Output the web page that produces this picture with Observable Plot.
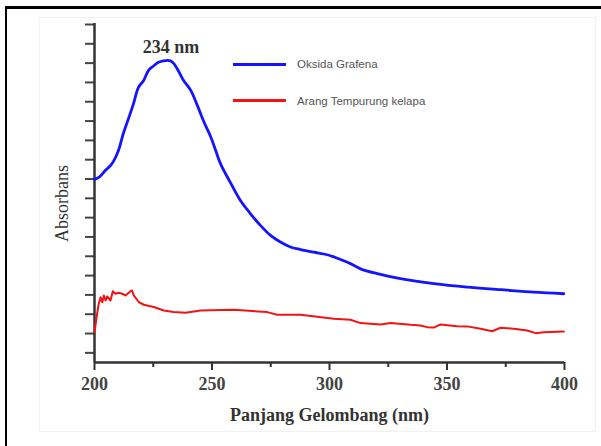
<!DOCTYPE html>
<html><head><meta charset="utf-8">
<script src="https://cdn.jsdelivr.net/npm/d3@7"></script>
<script src="https://cdn.jsdelivr.net/npm/@observablehq/plot@0.6"></script>
<style>
body{margin:0;background:#fff;}
#wrap{position:relative;width:601px;height:446px;overflow:hidden;background:#fff;}
#inner{position:absolute;left:39px;top:17px;width:557px;height:415px;border:1px solid #f1f1f1;box-sizing:border-box;}
#frameTop{position:absolute;left:5px;top:6px;width:596px;height:2.5px;background:#000;}
#frameLeft{position:absolute;left:4.5px;top:6px;width:2.5px;height:440px;background:#000;}
#chart{position:absolute;left:0;top:0;}
.lg{position:absolute;font-family:"Liberation Sans",Arial,sans-serif;font-size:11.5px;color:#555;white-space:nowrap;line-height:1;}
.lgline{position:absolute;height:3px;width:53px;}
</style></head><body>
<div id="wrap">
  <div id="inner"></div>
  <div id="frameTop"></div>
  <div id="frameLeft"></div>
  <div id="chart"></div>
  <div class="lgline" style="left:233px;top:63px;background:#1414ff;"></div>
  <div class="lg" style="left:297px;top:59px;">Oksida Grafena</div>
  <div class="lgline" style="left:233px;top:98.5px;background:#f01414;"></div>
  <div class="lg" style="left:297px;top:95.5px;">Arang Tempurung kelapa</div>
</div>
<script>
// Oksida Grafena (blue)
const wavelengthGO = [200, 202, 204.7, 206.8, 208, 210.2, 212.3, 214.5, 216.6, 218.7, 220.9, 223, 225, 227.2, 229.4, 232.3, 233.6, 235.7, 237.9, 240.9, 243.8, 246.4, 249.4, 251.5, 253.6, 257.9, 262.1, 266.4, 270.6, 274.9, 279.1, 283.4, 287.7, 293.3, 299.0, 304.7, 308.9, 313.2, 320.3, 330.2, 344.4, 358.6, 372.8, 386.9, 399.7];
const absorbGO = [9.48, 9.6, 9.95, 10.2, 10.4, 10.98, 11.87, 12.64, 13.4, 14.25, 14.6, 15.13, 15.34, 15.54, 15.62, 15.62, 15.5, 15.1, 14.6, 14.1, 13.3, 12.5, 11.7, 11.0, 10.3, 9.3, 8.39, 7.70, 7.10, 6.58, 6.24, 5.98, 5.85, 5.71, 5.58, 5.33, 5.12, 4.85, 4.6, 4.34, 4.08, 3.9, 3.77, 3.64, 3.56];
// Arang Tempurung kelapa (red)
const wavelengthArang = [200, 201.1, 201.8, 202.6, 203.3, 204.0, 204.7, 205.4, 206.8, 207.8, 208.9, 210.3, 211.8, 213.2, 215.3, 216.0, 216.7, 218.9, 221.0, 225.2, 229.5, 233.7, 238.7, 242.3, 245.1, 259.3, 273.5, 277.7, 287.7, 301.8, 308.9, 313.2, 321.7, 326.0, 334.5, 338.7, 341.6, 344.4, 347.2, 354.3, 358.6, 364.3, 369.2, 372.8, 378.4, 384.1, 387.7, 391.2, 399.7];
const absorbArang = [1.57, 2.52, 3.04, 3.38, 3.12, 3.47, 3.21, 3.42, 3.21, 3.69, 3.56, 3.61, 3.56, 3.47, 3.69, 3.73, 3.47, 3.12, 2.99, 2.87, 2.69, 2.61, 2.58, 2.64, 2.69, 2.73, 2.61, 2.47, 2.47, 2.26, 2.21, 2.04, 1.97, 2.04, 1.95, 1.92, 1.83, 1.81, 1.97, 1.88, 1.87, 1.75, 1.62, 1.80, 1.75, 1.66, 1.52, 1.57, 1.61];
const xTicks = [200, 250, 300, 350, 400];
const xMinorTicks = [225, 275, 325, 375];
const yTicks = [0.5, 1.5, 2.5, 3.5, 4.5, 5.5, 6.5, 7.5, 8.5, 9.5, 10.5, 11.5, 12.5, 13.5, 14.5, 15.5, 16.5, 17.5];
const peakLabel = [{x: 232.5, y: 16.3, text: "234 nm"}];
const xLabel = "Panjang Gelombang (nm)";
const yLabel = "Absorbans";

const go = wavelengthGO.map((x, i) => ({x, y: absorbGO[i]}));
const arang = wavelengthArang.map((x, i) => ({x, y: absorbArang[i]}));
const serif = "'Liberation Serif','Times New Roman',serif";

const plot = Plot.plot({
  width: 601, height: 446,
  marginLeft: 94, marginRight: 37, marginTop: 24, marginBottom: 84,
  style: {background: "transparent", fontFamily: serif, overflow: "visible"},
  x: {domain: [200, 400]},
  y: {domain: [0, 17.5]},
  marks: [
    Plot.axisY({ticks: yTicks, tickSize: 9, tickFormat: () => "", label: null, stroke: "#444", strokeWidth: 2}),
    Plot.axisX({ticks: xTicks, tickSize: 8, tickPadding: 7, label: null, stroke: "#333", strokeWidth: 2,
      fontSize: 18, fontWeight: "bold", fill: "#444", fontFamily: serif}),
    Plot.axisX({ticks: xMinorTicks, tickSize: 5, tickFormat: () => "", label: null, stroke: "#333", strokeWidth: 2}),
    Plot.ruleY([0], {x1: 200, x2: 400, stroke: "#333", strokeWidth: 2.5}),
    Plot.ruleX([200], {y1: 0, y2: 17.55, stroke: "#333", strokeWidth: 2.5}),
    Plot.line(arang, {x: "x", y: "y", stroke: "#f01414", strokeWidth: 2}),
    Plot.line(go, {x: "x", y: "y", stroke: "#1414ff", strokeWidth: 2.8, curve: "catmull-rom"}),
    Plot.text(peakLabel, {x: "x", y: "y", text: "text", fontSize: 18, fontWeight: "bold", fill: "#333", fontFamily: serif}),
    Plot.text([xLabel], {frameAnchor: "bottom", dy: 53, fontSize: 18, fontWeight: "bold", fill: "#333", fontFamily: serif, lineAnchor: "middle"}),
    Plot.text([yLabel], {frameAnchor: "left", dx: -32, dy: 10, rotate: -90, textAnchor: "middle", fontSize: 18, fill: "#333", fontFamily: serif, lineAnchor: "middle"})
  ]
});
document.getElementById("chart").appendChild(plot);
</script>
</body></html>
